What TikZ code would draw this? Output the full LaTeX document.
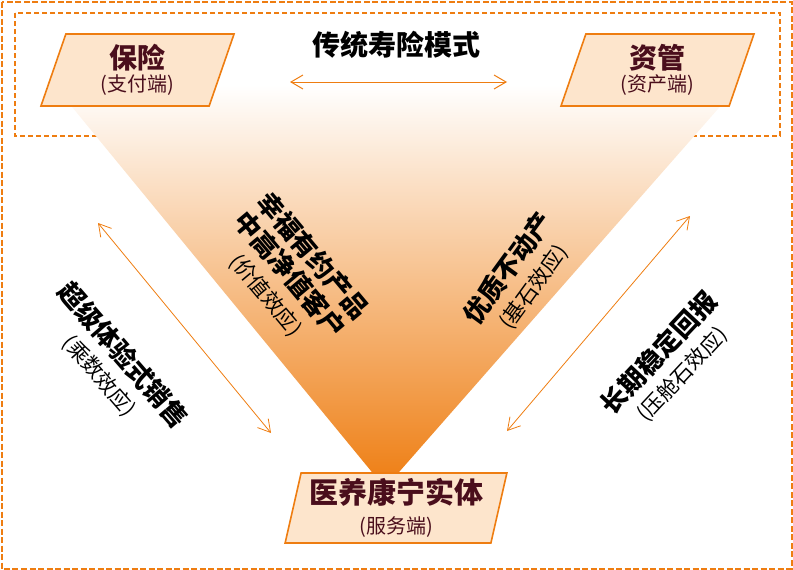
\documentclass[tikz,border=0pt]{standalone}
\usepackage{fontspec}
\setmainfont{Noto Sans CJK SC}
\usepackage{xcolor}
\usepackage{tikz}
\usetikzlibrary{shapes.geometric, arrows.meta, positioning}
\definecolor{careorange}{HTML}{EE7D11}
\definecolor{carefill}{HTML}{FDE5CC}
\definecolor{caremaroon}{HTML}{4A0E1C}

\tikzset{
  endbox/.style={trapezium, trapezium left angle=76, trapezium right angle=104,
    trapezium stretches=true, draw=careorange, line width=1.6pt, fill=carefill,
    text=caremaroon, align=center, inner sep=0pt},
  dashframe/.style={draw=careorange, line width=2pt, dash pattern=on 6pt off 2.5pt},
  twoway/.style={careorange, line width=0.8pt,
    {Straight Barb[length=12pt,width=14pt]}-{Straight Barb[length=12pt,width=14pt]}},
  sidetext/.style={align=center, inner sep=0pt, font=\fontsize{21}{29.5}\selectfont}
}

\begin{document}
\begin{tikzpicture}[x=1pt, y=-1pt]
    \useasboundingbox (0,0) rectangle (793,570);
    % frames
    \draw[dashframe] (1.5,1.5) rectangle (791.5,568.5);
    \draw[dashframe, line width=1.6pt, dash pattern=on 5pt off 3pt] (15,13) rectangle (780,136);
    % funnel
    \shade[top color=white, bottom color=careorange]
      (54,85) -- (739,85) -- (385,488) -- cycle;
    % three ends
    \node[endbox, minimum width=195pt, minimum height=72pt,
      font=\fontsize{20}{23}\selectfont] (baoxian) at (137.5,70)
      {{\fontsize{28}{28}\bfseries 保险}\\(支付端)};
    \node[endbox, minimum width=195pt, minimum height=72pt,
      font=\fontsize{20}{23}\selectfont] (ziguan) at (657.5,70)
      {{\fontsize{28}{28}\bfseries 资管}\\(资产端)};
    \node[endbox, minimum width=222pt, minimum height=70pt,
      font=\fontsize{20}{29.6}\selectfont] (yiyang) at (396,508)
      {{\fontsize{29}{29}\bfseries 医养康宁实体}\\(服务端)};
    % top model
    \node[font=\fontsize{28}{28}\bfseries] (model) at (396,45) {传统寿险模式};
    \coordinate (modelL) at (290,82);
    \coordinate (modelR) at (507,82);
    \draw[twoway, line width=1pt] (modelL) -- (modelR);
    % side arrows
    \coordinate (sellTop) at (98,223);
    \coordinate (sellEnd) at (271,433);
    \coordinate (payTop) at (690,216);
    \coordinate (payEnd) at (507,431);
    \draw[twoway] (sellTop) -- (sellEnd);
    \draw[twoway] (payTop) -- (payEnd);
    % rotated labels
    \node[sidetext, rotate=-49] (sell) at (112,365)
      {{\fontsize{26}{30}\bfseries 超级体验式销售}\\(乘数效应)};
    \node[sidetext, rotate=-50] (client) at (290,275)
      {{\fontsize{26}{30}\bfseries 幸福有约产品}\\{\fontsize{26}{30}\bfseries 中高净值客户}\\(价值效应)};
    \node[sidetext, rotate=54] (estate) at (520,277)
      {{\fontsize{26}{30}\bfseries 优质不动产}\\(基石效应)};
    \node[sidetext, rotate=47] (payback) at (670,363)
      {{\fontsize{26}{30}\bfseries 长期稳定回报}\\(压舱石效应)};
  \end{tikzpicture}
\end{document}
